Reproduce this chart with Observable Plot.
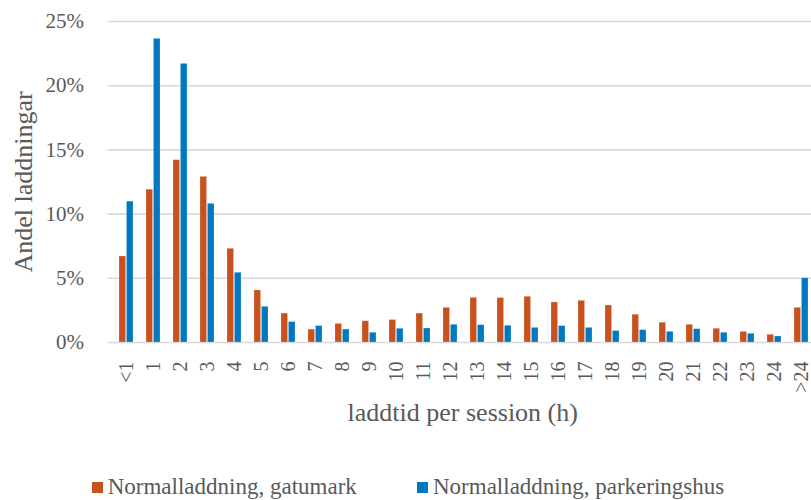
<!DOCTYPE html>
<html>
<head>
<meta charset="utf-8">
<script src="https://cdn.jsdelivr.net/npm/d3@7"></script>
<script src="https://cdn.jsdelivr.net/npm/@observablehq/plot@0.6"></script>
<style>
  html, body { margin: 0; padding: 0; background: #fff; }
  #wrap { position: relative; width: 811px; height: 500px; overflow: hidden; font-family: "Liberation Serif", "Times New Roman", Tinos, serif; color: #595959; }
  #legend { position: absolute; left: 0; top: 474px; width: 811px; height: 26px; font-size: 23px; }
  .item { position: absolute; top: 0; white-space: nowrap; line-height: 26px; }
  .sw { display: inline-block; width: 11px; height: 11px; margin-right: 5px; vertical-align: 1px; }
</style>
</head>
<body>
<div id="wrap">
  <div id="chart"></div>
  <div id="legend"></div>
</div>
<script>
const categories = ["<1","1","2","3","4","5","6","7","8","9","10","11","12","13","14","15","16","17","18","19","20","21","22","23","24",">24"];
const gatumark = [6.7, 11.9, 14.2, 12.9, 7.3, 4.05, 2.25, 1.0, 1.45, 1.65, 1.75, 2.25, 2.7, 3.48, 3.46, 3.56, 3.12, 3.25, 2.88, 2.16, 1.54, 1.38, 1.07, 0.83, 0.6, 2.7];
const parkeringshus = [10.97, 23.65, 21.7, 10.8, 5.43, 2.78, 1.59, 1.28, 1.01, 0.76, 1.07, 1.09, 1.38, 1.35, 1.3, 1.14, 1.28, 1.14, 0.89, 0.96, 0.83, 1.04, 0.76, 0.68, 0.47, 5.0];
const seriesNames = ["Normalladdning, gatumark", "Normalladdning, parkeringshus"];
const colors = ["#C8511E", "#0079C1"];
const yTicks = [0, 5, 10, 15, 20, 25];
const xTitle = "laddtid per session (h)";
const yTitle = "Andel laddningar";

const dataG = categories.map((c, i) => ({cat: c, value: gatumark[i]}));
const dataP = categories.map((c, i) => ({cat: c, value: parkeringshus[i]}));

const half = 13.68 / 2 + 0.6;
const serif = '"Liberation Serif", "Times New Roman", Tinos, serif';

const chart = Plot.plot({
  width: 811,
  height: 445,
  marginLeft: 107.5,
  marginRight: 0,
  marginTop: 21,
  marginBottom: 103,
  style: { fontFamily: serif, color: "#595959", background: "#fff" },
  x: { type: "band", domain: categories, range: [107.5, 819], paddingInner: 0.5, paddingOuter: 0.25 },
  y: { domain: [0, 25], ticks: yTicks },
  marks: [
    Plot.gridY(yTicks, { stroke: "#d9d9d9", strokeWidth: 1.6, strokeOpacity: 1 }),
    Plot.barY(dataG, { x: "cat", y: "value", fill: colors[0], insetRight: half, insetLeft: 0, stroke: "#fff", strokeOpacity: 0.35, strokeWidth: 0.6 }),
    Plot.barY(dataP, { x: "cat", y: "value", fill: colors[1], insetLeft: half, insetRight: 0, stroke: "#fff", strokeOpacity: 0.35, strokeWidth: 0.6 }),
    Plot.axisY(yTicks, { tickSize: 0, tickPadding: 24, tickFormat: d => d + "%", fontSize: 21, label: null, fill: "#595959" }),
    Plot.axisX({ tickSize: 0, tickPadding: 19, tickRotate: -90, fontSize: 20, label: null, fill: "#595959" }),
    Plot.text([xTitle], { frameAnchor: "bottom", text: d => d, dy: 78, dx: 3, fontSize: 26, fill: "#595959", textAnchor: "middle" }),
    Plot.text([yTitle], { frameAnchor: "left", text: d => d, dx: -84, rotate: -90, fontSize: 26, fill: "#595959", textAnchor: "middle" })
  ]
});
document.getElementById("chart").appendChild(chart);

const legend = document.getElementById("legend");
const lefts = [91.7, 417];
seriesNames.forEach((name, i) => {
  const it = document.createElement("div");
  it.className = "item";
  it.style.left = lefts[i] + "px";
  const sw = document.createElement("span");
  sw.className = "sw";
  sw.style.background = colors[i];
  it.appendChild(sw);
  it.appendChild(document.createTextNode(name));
  legend.appendChild(it);
});

// force layout so the serif fonts are resolved before the first paint
chart.getBoundingClientRect();
chart.querySelectorAll("text").forEach(t => { t.getComputedTextLength(); t.getBoundingClientRect(); });
legend.getBoundingClientRect();
</script>
</body>
</html>
